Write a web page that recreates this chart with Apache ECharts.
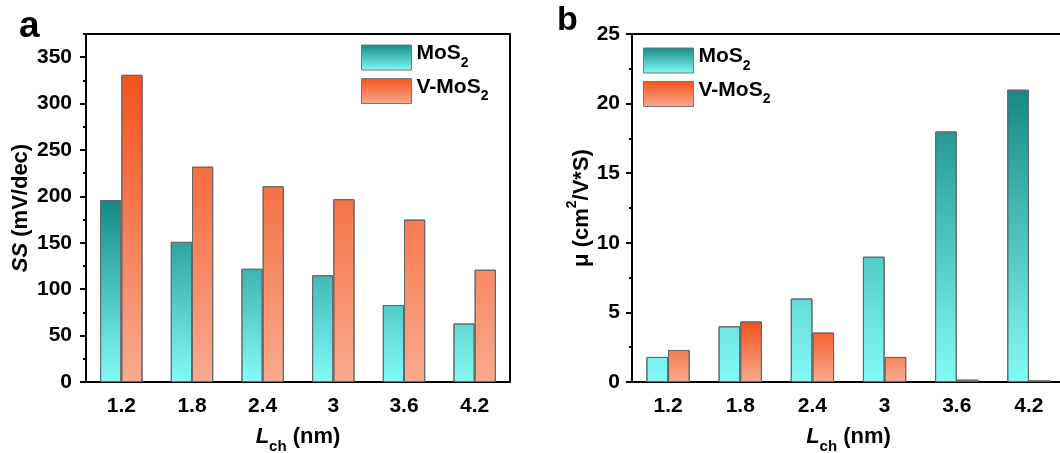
<!DOCTYPE html>
<html lang="en">
<head>
    <meta http-equiv="content-type" content="text/html;charset=utf-8">
    <title>SS and mobility vs channel length</title>
    <script src="https://cdn.jsdelivr.net/npm/echarts@6/dist/echarts.min.js"></script>
    <style>
        html, body { margin: 0; padding: 0; background: #fff; }
        #main { width: 1060px; height: 453px; }
    </style>
</head>
<body>
<div id="main"></div>
<script>
    // channel lengths (nm)
    var lengths = ['1.2', '1.8', '2.4', '3', '3.6', '4.2'];
    // panel a: subthreshold swing (mV/dec)
    var ssMoS2 = [196, 151, 122, 115, 83, 63];
    var ssVMoS2 = [331, 232, 211, 197, 175, 121];
    // panel b: mobility (cm2/V*S)
    var muMoS2 = [1.8, 4.0, 6.0, 9.0, 18.0, 21.0];
    var muVMoS2 = [2.3, 4.35, 3.55, 1.8, 0.17, 0.12];
    // tick labels
    var ssTicks = [0, 50, 100, 150, 200, 250, 300, 350];
    var muTicks = [0, 5, 10, 15, 20, 25];

    var FONT = '"Liberation Sans", Arial, sans-serif';
    var TEAL = ['#158a85', '#84fbf7'];
    var ORANGE = ['#f5511b', '#f9aa8e'];

    var myChart = echarts.init(document.getElementById('main'), null, { renderer: 'canvas' });

    function legendIcon(c) {
        return new echarts.graphic.LinearGradient(0, 0, 0, 1, [
            { offset: 0, color: c[0] }, { offset: 1, color: c[1] }
        ]);
    }

    var subRich = {
        t: { fontSize: 21, fontWeight: 'bold', fontFamily: FONT, color: '#000', lineHeight: 25, padding: [0, 0, 6, 0], verticalAlign: 'bottom' },
        s: { fontSize: 14, fontWeight: 'bold', fontFamily: FONT, color: '#000', lineHeight: 17, verticalAlign: 'bottom' }
    };

    function legendFor(gi, left, top) {
        return {
            orient: 'vertical',
            left: left,
            top: top,
            padding: 0,
            icon: 'rect',
            itemWidth: 50,
            itemHeight: 25,
            itemGap: 6,
            selectedMode: false,
            data: [
                { name: gi === 0 ? 'MoS2' : 'MoS2 ', itemStyle: { color: legendIcon(TEAL), borderColor: '#777', borderWidth: 1 } },
                { name: gi === 0 ? 'V-MoS2' : 'V-MoS2 ', itemStyle: { color: legendIcon(ORANGE), borderColor: '#777', borderWidth: 1 } }
            ],
            formatter: function (name) {
                return name.indexOf('V-') === 0 ? '{t|V-MoS}{s|2}' : '{t|MoS}{s|2}';
            },
            textStyle: { rich: subRich }
        };
    }

    function xAxes(gi) {
        return [{
            type: 'category',
            gridIndex: gi,
            position: 'bottom',
            data: lengths,
            axisLine: { lineStyle: { color: '#000', width: 2 } },
            axisTick: { alignWithLabel: true, length: 6, lineStyle: { color: '#000', width: 2 } },
            axisLabel: { color: '#000', fontSize: 21, fontWeight: 'bold', fontFamily: FONT, margin: 14 },
            name: '{i|L}{s|ch}{t| (nm)}',
            nameLocation: 'middle',
            nameGap: 46,
            nameTextStyle: {
                rich: {
                    i: { fontSize: 22, fontWeight: 'bold', fontStyle: 'italic', fontFamily: FONT, color: '#000', lineHeight: 26, padding: [0, 0, 6, 0], verticalAlign: 'bottom' },
                    s: { fontSize: 15, fontWeight: 'bold', fontFamily: FONT, color: '#000', lineHeight: 18, verticalAlign: 'bottom' },
                    t: { fontSize: 22, fontWeight: 'bold', fontFamily: FONT, color: '#000', lineHeight: 26, padding: [0, 0, 6, 0], verticalAlign: 'bottom' }
                }
            }
        }, {
            // boundary (minor) ticks between categories
            type: 'category',
            gridIndex: gi,
            position: 'bottom',
            data: lengths,
            axisLine: { show: false },
            axisTick: { length: 3, lineStyle: { color: '#000', width: 2 } },
            axisLabel: { show: false }
        }];
    }

    function yAxes(gi, max, major, minor, ticks, name, rich, gap, margin) {
        return [{
            type: 'value',
            gridIndex: gi,
            position: 'left',
            min: 0,
            max: max,
            interval: major,
            splitLine: { show: false },
            axisLine: { show: true, lineStyle: { color: '#000', width: 2 } },
            axisTick: { show: true, length: 6, customValues: ticks, lineStyle: { color: '#000', width: 2 } },
            axisLabel: { color: '#000', fontSize: 21, fontWeight: 'bold', fontFamily: FONT, margin: margin, customValues: ticks },
            name: name,
            nameLocation: 'middle',
            nameGap: gap,
            nameTextStyle: { rich: rich }
        }, {
            type: 'value',
            gridIndex: gi,
            position: 'left',
            min: 0,
            max: max,
            interval: minor,
            splitLine: { show: false },
            axisLine: { show: false },
            axisTick: { show: true, length: 3, lineStyle: { color: '#000', width: 2 } },
            axisLabel: { show: false }
        }];
    }

    var ssRich = {
        i: { fontSize: 22, fontWeight: 'bold', fontStyle: 'italic', fontFamily: FONT, color: '#000' },
        t: { fontSize: 22, fontWeight: 'bold', fontFamily: FONT, color: '#000' }
    };
    var muRich = {
        t: { fontSize: 22, fontWeight: 'bold', fontFamily: FONT, color: '#000', lineHeight: 26, padding: [6, 0, 0, 0], verticalAlign: 'top' },
        p: { fontSize: 14, fontWeight: 'bold', fontFamily: FONT, color: '#000', lineHeight: 17, verticalAlign: 'top' }
    };

    function barSeries(name, gi, data, colors) {
        return {
            name: name,
            type: 'bar',
            xAxisIndex: gi * 2,
            yAxisIndex: gi * 2,
            data: data,
            barWidth: '30%',
            barGap: '0%',
            itemStyle: { color: colors[1], borderColor: '#666', borderWidth: 1 },
            emphasis: { disabled: true }
        };
    }

    var option = {
        animation: false,
        backgroundColor: '#fff',
        grid: [
            { left: 86, top: 34, width: 424, height: 348, outerBoundsMode: 'none', show: true, borderColor: '#000', borderWidth: 2, backgroundColor: 'transparent' },
            { left: 632, top: 34, width: 433, height: 348, outerBoundsMode: 'none', show: true, borderColor: '#000', borderWidth: 2, backgroundColor: 'transparent' }
        ],
        legend: [legendFor(0, 361, 43), legendFor(1, 643, 46)],
        xAxis: xAxes(0).concat(xAxes(1)),
        yAxis: yAxes(0, 375, 50, 25, ssTicks, '{i|SS}{t| (mV/dec)}', ssRich, 54, 14)
            .concat(yAxes(1, 25, 5, 2.5, muTicks, '{t|μ (cm}{p|2}{t|/V*S)}', muRich, 40, 12)),
        series: [
            barSeries('MoS2', 0, ssMoS2, TEAL),
            barSeries('V-MoS2', 0, ssVMoS2, ORANGE),
            barSeries('MoS2 ', 1, muMoS2, TEAL),
            barSeries('V-MoS2 ', 1, muVMoS2, ORANGE)
        ],
        graphic: [
            { type: 'text', left: 19, top: 8, style: { text: 'a', fontSize: 37, fontWeight: 'bold', fontFamily: FONT, fill: '#000' } },
            { type: 'text', left: 557, top: 4, style: { text: 'b', fontSize: 34, fontWeight: 'bold', fontFamily: FONT, fill: '#000' } }
        ]
    };

    myChart.setOption(option);

    // colour each series by value: darkest at the series maximum, lightest at zero
    var groups = [[ssMoS2, TEAL, 0], [ssVMoS2, ORANGE, 0], [muMoS2, TEAL, 2], [muVMoS2, ORANGE, 2]];
    var updates = groups.map(function (g) {
        var y0 = myChart.convertToPixel({ yAxisIndex: g[2] }, 0);
        var y1 = myChart.convertToPixel({ yAxisIndex: g[2] }, Math.max.apply(null, g[0]));
        return {
            itemStyle: {
                color: new echarts.graphic.LinearGradient(0, y1, 0, y0, [
                    { offset: 0, color: g[1][0] }, { offset: 1, color: g[1][1] }
                ], true)
            }
        };
    });
    myChart.setOption({ series: updates });
</script>
</body>
</html>
